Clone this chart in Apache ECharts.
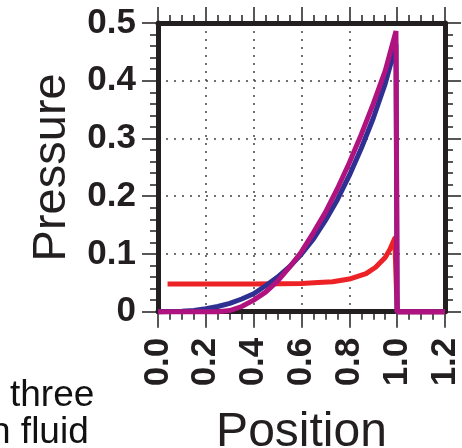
<!DOCTYPE html>
<html>
<head>
<meta charset="utf-8">
<script src="https://cdn.jsdelivr.net/npm/echarts@6/dist/echarts.min.js"></script>
<style>
  html, body { margin: 0; padding: 0; background: #fff; }
  #chart { width: 462px; height: 448px; }
</style>
</head>
<body>
<div id="chart"></div>
<script>
// Pressure profiles along the channel for three cases
const xTicks = [0.0, 0.2, 0.4, 0.6, 0.8, 1.0, 1.2];
const yTicks = [0, 0.1, 0.2, 0.3, 0.4, 0.5];

// red case: nearly flat, sharp rise just before the front
const redPosition = [0.04, 0.1, 0.2, 0.3, 0.4, 0.5, 0.6, 0.67, 0.73, 0.8, 0.87, 0.91, 0.95, 0.97, 0.99, 1.0, 1.2];
const redPressure = [0.048, 0.048, 0.048, 0.048, 0.048, 0.0485, 0.049, 0.0505, 0.052, 0.0565, 0.066, 0.077, 0.094, 0.108, 0.127, 0, 0];

// blue case
const bluePosition = [0, 0.05, 0.1, 0.15, 0.2, 0.25, 0.3, 0.35, 0.4, 0.45, 0.5, 0.55, 0.6, 0.65, 0.7, 0.75, 0.8, 0.85, 0.9, 0.95, 0.995, 1.0, 1.2];
const bluePressure = [0, 0.0002, 0.0007, 0.002, 0.005, 0.009, 0.0145, 0.022, 0.031, 0.045, 0.060, 0.078, 0.100, 0.126, 0.158, 0.194, 0.236, 0.283, 0.335, 0.395, 0.462, 0, 0];

// purple case
const purplePosition = [0, 0.1, 0.2, 0.25, 0.3, 0.35, 0.4, 0.45, 0.5, 0.55, 0.6, 0.65, 0.7, 0.75, 0.8, 0.85, 0.9, 0.95, 0.995, 1.0, 1.2];
const purplePressure = [0, 0, 0, 0, 0.002, 0.009, 0.020, 0.034, 0.053, 0.077, 0.104, 0.137, 0.172, 0.213, 0.258, 0.307, 0.360, 0.417, 0.486, 0, 0];

const captionLines = ['three', 'n fluid'];

const ink = '#231f20';
const fontFamily = '"Liberation Sans", Arial, Helvetica, sans-serif';

function pairs(xs, ys) { return xs.map((x, i) => [x, ys[i]]); }

const frameLine = { show: true, onZero: false, lineStyle: { color: ink, width: 5 } };
const tickStyle = { color: ink, width: 1.5 };
const gridDots = { show: true, lineStyle: { color: '#444', width: 1.5, type: [2, 6] } };

const chart = echarts.init(document.getElementById('chart'), null, { renderer: 'canvas' });

const option = {
  backgroundColor: '#ffffff',
  animation: false,
  grid: {
    left: 158, right: 17, top: 23, bottom: 136.3,
    containLabel: false, outerBoundsMode: 'none'
  },
  xAxis: [
    {
      type: 'value', position: 'bottom',
      min: xTicks[0], max: xTicks[xTicks.length - 1], interval: 0.2,
      axisLine: frameLine,
      axisTick: { show: true, inside: false, length: 16, lineStyle: tickStyle },
      minorTick: { show: true, splitNumber: 4, length: 8, lineStyle: tickStyle },
      splitLine: gridDots,
      axisLabel: {
        rotate: 90, margin: 26,
        color: ink, fontFamily: fontFamily, fontWeight: 'bold', fontSize: 35,
        formatter: v => v.toFixed(1)
      },
      name: 'Position', nameLocation: 'middle', nameGap: 97,
      nameTextStyle: { color: ink, fontFamily: fontFamily, fontSize: 48 }
    },
    {
      type: 'value', position: 'top',
      min: xTicks[0], max: xTicks[xTicks.length - 1], interval: 0.2,
      axisLine: frameLine,
      axisTick: { show: true, inside: false, length: 16, lineStyle: tickStyle },
      minorTick: { show: true, splitNumber: 4, length: 8, lineStyle: tickStyle },
      splitLine: { show: false },
      axisLabel: { show: false }
    }
  ],
  yAxis: [
    {
      type: 'value', position: 'left',
      min: yTicks[0], max: yTicks[yTicks.length - 1], interval: 0.1,
      axisLine: frameLine,
      axisTick: { show: true, inside: false, length: 16, lineStyle: tickStyle },
      minorTick: { show: true, splitNumber: 5, length: 8, lineStyle: tickStyle },
      splitLine: gridDots,
      axisLabel: {
        margin: 22,
        color: ink, fontFamily: fontFamily, fontWeight: 'bold', fontSize: 35,
        formatter: v => (v === 0 ? '0' : v.toFixed(1))
      },
      name: 'Pressure', nameLocation: 'middle', nameGap: 82,
      nameTextStyle: { color: ink, fontFamily: fontFamily, fontSize: 47 }
    },
    {
      type: 'value', position: 'right',
      min: yTicks[0], max: yTicks[yTicks.length - 1], interval: 0.1,
      axisLine: frameLine,
      axisTick: { show: true, inside: false, length: 16, lineStyle: tickStyle },
      minorTick: { show: true, splitNumber: 5, length: 8, lineStyle: tickStyle },
      splitLine: { show: false },
      axisLabel: { show: false }
    }
  ],
  series: [
    {
      type: 'line', name: 'red', data: pairs(redPosition, redPressure),
      showSymbol: false, clip: false, z: 3,
      lineStyle: { color: '#ec2227', width: 5, join: 'round' }
    },
    {
      type: 'line', name: 'blue', data: pairs(bluePosition, bluePressure),
      showSymbol: false, clip: false, z: 4,
      lineStyle: { color: '#2e3192', width: 5, join: 'round' }
    },
    {
      type: 'line', name: 'purple', data: pairs(purplePosition, purplePressure),
      showSymbol: false, clip: false, z: 5,
      lineStyle: { color: '#b0137f', width: 5, join: 'bevel' }
    }
  ],
  graphic: [
    {
      type: 'text', x: 10, y: 377,
      style: { text: captionLines[0], fill: '#111', font: '37px ' + fontFamily }
    },
    {
      type: 'text', x: -10, y: 414,
      style: { text: captionLines[1], fill: '#111', font: '37px ' + fontFamily }
    }
  ]
};

chart.setOption(option);
</script>
</body>
</html>
